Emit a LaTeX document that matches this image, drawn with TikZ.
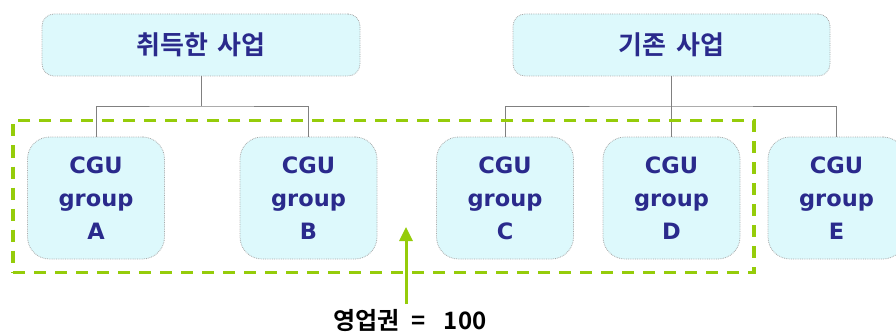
\documentclass[tikz,border=0pt]{standalone}
\usepackage{fontspec}
\usetikzlibrary{arrows.meta}
\newfontfamily\krfont{Noto Sans CJK KR}[BoldFont={* Bold}]
\newfontfamily\latfont{DejaVu Sans}
\definecolor{boxfill}{HTML}{DDF9FC}
\definecolor{boxline}{HTML}{A8A8A8}
\definecolor{txtblue}{HTML}{2A2A8C}
\definecolor{lime}{HTML}{95CC0A}
\definecolor{conn}{HTML}{808080}
\begin{document}
\begin{tikzpicture}[x=1pt,y=-1pt,
  titlebox/.style={draw=boxline, densely dotted, line width=0.8pt, fill=boxfill,
    rounded corners=12pt, minimum width=318pt, minimum height=62pt,
    inner sep=0pt, text=txtblue, font=\krfont\bfseries\fontsize{26}{30}\selectfont},
  cgubox/.style={draw=boxline, densely dotted, line width=0.8pt, fill=boxfill,
    rounded corners=22pt, minimum width=137pt, minimum height=122pt,
    inner sep=0pt, align=center, text=txtblue,
    font=\latfont\bfseries\fontsize{22.5}{33}\selectfont},
  connline/.style={draw=conn, line width=0.8pt},
  grpbox/.style={draw=lime, line width=3.5pt, dash pattern=on 12pt off 9pt,
    minimum width=741pt, minimum height=152pt, inner sep=0pt},
  limearrow/.style={draw=lime, line width=3pt, -{Triangle[length=14pt,width=13pt]}},
  lbl/.style={font=\krfont\bfseries\fontsize{24}{28}\selectfont, text=black, inner sep=0pt}
]
\useasboundingbox (0,0) rectangle (896,334);
\clip (0,0) rectangle (896,334);

\node[titlebox] (T1) at (201,45) {취득한\hspace{10pt}사업};
\node[titlebox, minimum width=317pt] (T2) at (671.5,45) {기존\hspace{10pt}사업};

\node[cgubox] (A) at (96,198) {CGU\\group\\A};
\node[cgubox] (B) at (308.5,198) {CGU\\group\\B};
\node[cgubox] (C) at (505,198) {CGU\\group\\C};
\node[cgubox] (D) at (671.5,198) {CGU\\group\\D};
\node[cgubox] (E) at (836.5,198) {CGU\\group\\E};

\coordinate (j1) at (201,106);
\coordinate (j2) at (671.5,106);
\draw[connline] (T1.south) -- (j1);
\draw[connline] (A.north) |- (j1) -| (B.north);
\draw[connline] (T2.south) -- (D.north);
\draw[connline] (C.north) |- (j2) -| (E.north);

\node[grpbox] (grp) at (383.5,196.5) {};

\node[lbl] (L) at (410,321) {영업권\hspace{12pt}=\hspace{18pt}100};
\coordinate (atail) at (406,304);
\coordinate (atip) at (406,227);
\draw[limearrow] (atail) -- (atip);
\end{tikzpicture}
\end{document}
